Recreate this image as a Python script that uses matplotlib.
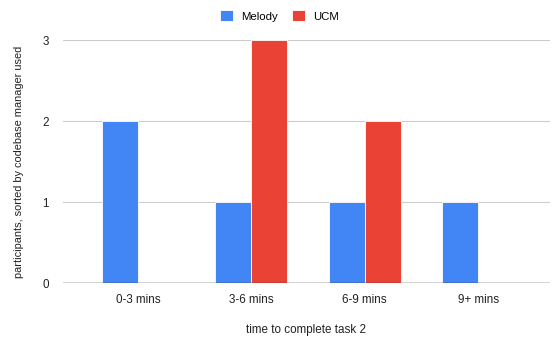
import matplotlib
matplotlib.use("Agg")
import matplotlib.pyplot as plt
import numpy as np

categories = ["0-3 mins", "3-6 mins", "6-9 mins", "9+ mins"]
melody = [2, 1, 1, 1]
ucm = [0, 3, 2, 0]

plt.rcParams['font.family'] = ['Liberation Sans', 'DejaVu Sans']

fig = plt.figure(figsize=(5.52, 3.37), dpi=100)
ax = fig.add_axes([0.114, 0.160, 0.882, 0.721])

x = np.arange(len(categories))
w = 0.318
ax.bar(x - w/2, melody, w, color="#4285F4", label="Melody", edgecolor="white", linewidth=0.6, zorder=3)
ax.bar(x + w/2, ucm, w, color="#EA4335", label="UCM", edgecolor="white", linewidth=0.6, zorder=3)

ax.set_xlim(-0.66, 3.63)
ax.set_ylim(0, 3)
ax.set_yticks([0, 1, 2, 3])
ax.set_xticks(x)
ax.set_xticklabels(categories)
ax.yaxis.grid(True, color="#cccccc", linewidth=0.8, zorder=0)
ax.axhline(0, color="#333333", linewidth=1.0, zorder=4)
for s in ax.spines.values():
    s.set_visible(False)
ax.tick_params(axis='both', length=0, labelsize=8.4, colors="#222222")
ax.tick_params(axis='x', pad=8)
ax.tick_params(axis='y', pad=10)
ax.set_xlabel("time to complete task 2", fontsize=8.4, color="#222222", labelpad=13)
ax.set_ylabel("participants, sorted by codebase manager used", fontsize=7.9, color="#222222", labelpad=13)

fig.legend(loc="upper center", bbox_to_anchor=(0.506, 1.0), ncol=2, frameon=False,
           fontsize=8.2, handlelength=1.1, handleheight=1.1, columnspacing=1.3, handletextpad=0.7)

fig.savefig("out.png", dpi=100)
